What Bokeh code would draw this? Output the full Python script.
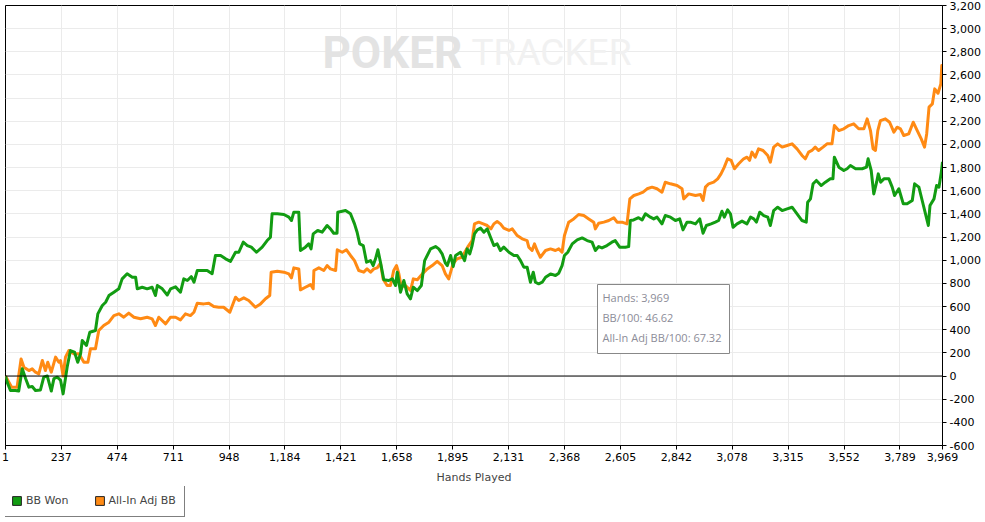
import math
from bokeh.plotting import figure
from bokeh.layouts import column
from bokeh.models import (Range1d, FixedTicker, NumeralTickFormatter, Span, Label,
                          BoxAnnotation, Legend, LegendItem, ColumnDataSource)
from bokeh.embed import file_html
from bokeh.resources import INLINE

# ---------------- data ----------------
x_ticks = [1, 237, 474, 711, 948, 1184, 1421, 1658, 1895, 2131, 2368, 2605,
           2842, 3078, 3315, 3552, 3789, 3969]
y_ticks = list(range(-600, 3201, 200))

won_hands = [1, 8, 22, 43, 57, 72, 86, 100, 114, 128,
             149, 163, 178, 195, 206, 220, 234, 245, 262, 276,
             293, 307, 319, 326, 344, 358, 382, 392, 411, 425,
             439, 460, 481, 495, 516, 538, 552, 559, 580, 601,
             622, 636, 644, 665, 686, 700, 721, 742, 756, 771,
             788, 799, 813, 834, 855, 876, 890, 912, 933, 954,
             975, 989, 1008, 1025, 1042, 1064, 1088, 1109, 1123, 1130,
             1152, 1180, 1201, 1212, 1222, 1243, 1250, 1271, 1285, 1295,
             1304, 1323, 1342, 1363, 1377, 1391, 1405, 1408, 1441, 1462,
             1479, 1490, 1501, 1516, 1530, 1547, 1558, 1568, 1578, 1589,
             1603, 1624, 1639, 1653, 1660, 1674, 1688, 1702, 1716, 1728,
             1745, 1762, 1776, 1801, 1822, 1836, 1850, 1864, 1872, 1886,
             1897, 1907, 1928, 1945, 1956, 1967, 1977, 1987, 1999, 2013,
             2027, 2041, 2055, 2069, 2083, 2097, 2111, 2133, 2154, 2168,
             2182, 2196, 2210, 2224, 2236, 2245, 2259, 2274, 2288, 2309,
             2330, 2344, 2358, 2368, 2382, 2401, 2422, 2443, 2464, 2485,
             2499, 2513, 2527, 2548, 2569, 2583, 2602, 2626, 2640, 2647,
             2661, 2682, 2697, 2711, 2732, 2746, 2760, 2781, 2795, 2817,
             2838, 2856, 2870, 2887, 2901, 2923, 2941, 2955, 2969, 2989,
             3007, 3021, 3035, 3045, 3059, 3071, 3082, 3099, 3120, 3141,
             3156, 3170, 3181, 3195, 3212, 3229, 3240, 3254, 3271, 3290,
             3311, 3332, 3353, 3374, 3392, 3398, 3410, 3421, 3435, 3455,
             3473, 3494, 3505, 3511, 3530, 3551, 3565, 3579, 3601, 3629,
             3647, 3654, 3667, 3678, 3690, 3697, 3707, 3721, 3742, 3756,
             3766, 3784, 3803, 3819, 3841, 3851, 3869, 3883, 3897, 3909,
             3916, 3933, 3944, 3954, 3964, 3969]
bb_won = [0, -53, -125, -125, -130, 62, -22, -96, -90, -125,
          -120, -10, 0, -130, -22, -10, -35, -154, 76, 220,
          207, 119, 192, 307, 264, 378, 393, 537, 609, 637,
          695, 724, 753, 839, 883, 853, 853, 753, 767, 753,
          767, 695, 781, 753, 700, 753, 770, 724, 839, 825,
          858, 810, 911, 911, 911, 883, 1041, 1041, 1012, 990,
          1069, 1069, 1156, 1127, 1113, 1069, 1113, 1170, 1199, 1401,
          1401, 1395, 1372, 1343, 1415, 1415, 1084, 1113, 1141, 1098,
          1228, 1257, 1242, 1300, 1271, 1233, 1233, 1415, 1429, 1401,
          1314, 1242, 1141, 1127, 983, 997, 954, 1012, 1090, 983,
          831, 825, 840, 782, 897, 724, 825, 709, 667, 767,
          738, 782, 997, 1098, 1118, 1098, 1055, 975, 954, 1041,
          946, 1041, 1069, 997, 1098, 1055, 1127, 1228, 1262, 1277,
          1242, 1271, 1199, 1127, 1141, 1084, 1113, 1069, 1041, 1041,
          997, 940, 940, 810, 897, 810, 796, 810, 853, 882,
          868, 888, 954, 1041, 1069, 1141, 1176, 1193, 1170, 1156,
          1084, 1118, 1106, 1127, 1156, 1170, 1113, 1113, 1118, 1343,
          1348, 1367, 1348, 1401, 1372, 1357, 1372, 1314, 1386, 1372,
          1343, 1357, 1262, 1329, 1329, 1314, 1357, 1233, 1300, 1314,
          1329, 1343, 1423, 1372, 1435, 1401, 1285, 1314, 1338, 1314,
          1372, 1357, 1329, 1415, 1386, 1372, 1300, 1429, 1458, 1429,
          1444, 1458, 1401, 1343, 1329, 1501, 1530, 1660, 1689, 1645,
          1674, 1703, 1703, 1890, 1804, 1775, 1790, 1818, 1790, 1790,
          1804, 1876, 1775, 1573, 1674, 1746, 1674, 1703, 1703, 1631,
          1559, 1617, 1487, 1487, 1516, 1660, 1631, 1516, 1401, 1300,
          1472, 1530, 1645, 1631, 1761, 1850]

adj_hands = [1, 27, 50, 67, 79, 100, 114, 128, 142, 157,
             170, 180, 195, 213, 227, 234, 245, 255, 269, 290,
             312, 333, 350, 361, 382, 396, 417, 439, 460, 481,
             502, 523, 545, 573, 601, 622, 636, 650, 679, 700,
             721, 742, 763, 784, 799, 813, 841, 862, 883, 904,
             925, 951, 975, 989, 1010, 1031, 1059, 1081, 1102, 1120,
             1126, 1152, 1180, 1201, 1212, 1222, 1243, 1250, 1271, 1293,
             1304, 1307, 1328, 1349, 1363, 1377, 1399, 1406, 1427, 1445,
             1462, 1479, 1497, 1518, 1532, 1547, 1561, 1575, 1589, 1600,
             1617, 1631, 1645, 1657, 1667, 1677, 1695, 1716, 1728, 1745,
             1766, 1787, 1808, 1829, 1850, 1864, 1878, 1896, 1913, 1934,
             1958, 1977, 1987, 2005, 2024, 2041, 2057, 2069, 2083, 2097,
             2111, 2133, 2147, 2168, 2189, 2210, 2217, 2231, 2241, 2252,
             2266, 2288, 2309, 2330, 2344, 2358, 2368, 2386, 2407, 2428,
             2450, 2471, 2492, 2499, 2513, 2535, 2556, 2577, 2591, 2612,
             2633, 2645, 2662, 2683, 2701, 2718, 2739, 2760, 2781, 2795,
             2817, 2845, 2866, 2873, 2894, 2923, 2944, 2955, 2965, 2979,
             3000, 3017, 3031, 3045, 3059, 3074, 3088, 3106, 3127, 3141,
             3152, 3162, 3176, 3190, 3209, 3229, 3240, 3254, 3271, 3290,
             3311, 3332, 3353, 3374, 3388, 3402, 3416, 3430, 3444, 3463,
             3480, 3501, 3511, 3530, 3551, 3572, 3593, 3614, 3636, 3650,
             3664, 3675, 3685, 3695, 3706, 3727, 3745, 3763, 3777, 3791,
             3805, 3826, 3845, 3862, 3879, 3893, 3902, 3912, 3926, 3936,
             3950, 3962, 3966, 3969]
bb_adj = [0, -96, -96, 148, 76, 47, 62, 33, 19, 134,
          47, 119, 33, 163, 119, 134, 0, 163, 220, 192,
          192, 119, 119, 235, 235, 393, 436, 465, 522, 537,
          508, 543, 508, 494, 508, 494, 436, 508, 451, 508,
          508, 485, 537, 522, 551, 629, 623, 629, 600, 594,
          594, 551, 681, 652, 675, 652, 594, 623, 667, 695,
          897, 905, 897, 882, 848, 934, 925, 744, 767, 790,
          753, 911, 934, 911, 954, 925, 911, 1090, 1069, 1090,
          1041, 997, 911, 897, 925, 897, 925, 934, 975, 839,
          782, 782, 911, 954, 882, 767, 782, 738, 839, 831,
          882, 925, 954, 991, 954, 882, 839, 969, 1012, 1026,
          1113, 1170, 1314, 1329, 1314, 1300, 1271, 1314, 1334, 1314,
          1277, 1257, 1271, 1213, 1185, 1170, 1113, 1084, 1141, 1084,
          1026, 1084, 1098, 1084, 1098, 1069, 1213, 1329, 1357, 1395,
          1386, 1357, 1329, 1271, 1320, 1329, 1343, 1367, 1329, 1329,
          1314, 1530, 1559, 1573, 1588, 1617, 1631, 1617, 1588, 1674,
          1660, 1645, 1617, 1530, 1573, 1559, 1567, 1516, 1631, 1660,
          1674, 1703, 1746, 1804, 1876, 1862, 1790, 1833, 1876, 1890,
          1862, 1934, 1890, 1962, 1948, 1905, 1847, 1977, 2005, 1977,
          1991, 2005, 1962, 1905, 1876, 1934, 1948, 1977, 1948, 1977,
          2005, 2005, 2163, 2120, 2135, 2163, 2178, 2135, 2135, 2221,
          2120, 1962, 1948, 2120, 2206, 2221, 2192, 2106, 2149, 2135,
          2077, 2091, 2192, 2120, 2048, 1977, 2091, 2322, 2350, 2480,
          2442, 2523, 2681, 2672]

series_names = ["BB Won", "All-In Adj BB"]
x_title = "Hands Played"
info_lines = ["Hands: 3,969", "BB/100: 46.62", "All-In Adj BB/100: 67.32"]
watermark = ["POKER", "TRACKER"]

GREEN = "#129c12"
ORANGE = "#ff8a14"
FONT = "DejaVu Sans"

# ---------------- main figure ----------------
FW, FH = 937, 440

p = figure(frame_width=FW, frame_height=FH,
           x_range=Range1d(1, 3969), y_range=Range1d(-600, 3200),
           y_axis_location="right", output_backend="svg", toolbar_location=None,
           min_border_left=5, min_border_right=2, min_border_top=5, min_border_bottom=41)
p.outline_line_color = "black"
p.outline_line_width = 1
p.background_fill_color = "white"
p.border_fill_color = "white"

for ax in (p.xaxis[0], p.yaxis[0]):
    ax.major_tick_out = 4
    ax.major_tick_in = 0
    ax.minor_tick_out = 0
    ax.minor_tick_in = 0
    ax.axis_line_color = "black"
    ax.major_tick_line_color = "black"
    ax.major_label_text_font = FONT
    ax.major_label_text_font_size = "11px"
    ax.major_label_text_color = "black"
    ax.formatter = NumeralTickFormatter(format="0,0")

p.xaxis.ticker = FixedTicker(ticks=x_ticks)
p.yaxis.ticker = FixedTicker(ticks=y_ticks)
p.xaxis.major_label_standoff = 3
p.yaxis.major_label_standoff = 3
p.xaxis.axis_label = x_title
p.xaxis.axis_label_text_font = FONT
p.xaxis.axis_label_text_font_size = "11px"
p.xaxis.axis_label_text_font_style = "normal"
p.xaxis.axis_label_standoff = 7

p.xgrid.ticker = FixedTicker(ticks=x_ticks)
p.ygrid.ticker = FixedTicker(ticks=y_ticks)
for g in (p.xgrid[0], p.ygrid[0]):
    g.grid_line_color = "#ebebeb"
    g.grid_line_width = 1

# watermark (screen units relative to the frame, y measured up from its bottom)
p.add_layout(Label(x=317, y=440 - 47, x_units="screen", y_units="screen",
                   text=watermark[0], text_font="Roboto", text_font_style="bold",
                   text_font_size="44px", text_color="#e3e3e3",
                   text_baseline="middle", level="underlay"))
p.add_layout(Label(x=466, y=440 - 47, x_units="screen", y_units="screen",
                   text=watermark[1], text_font="Roboto",
                   text_font_size="37px", text_color="#f1f1f1",
                   text_baseline="middle", level="underlay"))

# zero line (above the grid, below the series)
p.add_layout(Span(location=0, dimension="width", line_color="black",
                  line_width=1, level="glyph"))

# series
p.line(adj_hands, bb_adj, line_color=ORANGE, line_width=3, line_join="round")
p.line(won_hands, bb_won, line_color=GREEN, line_width=3, line_join="round")

# info box
p.add_layout(BoxAnnotation(left=592, right=724, top=440 - 279, bottom=440 - 348,
                           left_units="screen", right_units="screen",
                           top_units="screen", bottom_units="screen",
                           fill_color="white", fill_alpha=1.0,
                           line_color="#888888", line_alpha=1.0, line_width=1))
for i, t in enumerate(info_lines):
    p.add_layout(Label(x=597, y=440 - 292 - 20 * i,
                       x_units="screen", y_units="screen", text=t,
                       text_font="Open Sans", text_font_size="11px",
                       text_color="#8c8c98", text_baseline="middle"))

# ---------------- legend strip (separate small figure) ----------------
lg = figure(width=400, height=34, output_backend="svg", toolbar_location=None,
            x_axis_type=None, y_axis_type=None,
            x_range=Range1d(0, 1), y_range=Range1d(0, 1),
            min_border=0, min_border_left=0, min_border_right=0,
            min_border_top=0, min_border_bottom=0)
lg.outline_line_color = None
lg.grid.visible = False
lg.background_fill_color = "white"
lg.border_fill_color = "white"

nan_src1 = ColumnDataSource(dict(l=[math.nan], r=[math.nan], t=[math.nan], b=[math.nan]))
nan_src2 = ColumnDataSource(dict(l=[math.nan], r=[math.nan], t=[math.nan], b=[math.nan]))
r1 = lg.quad(left="l", right="r", top="t", bottom="b", source=nan_src1,
             fill_color=GREEN, line_color="#222222", line_width=1)
r2 = lg.quad(left="l", right="r", top="t", bottom="b", source=nan_src2,
             fill_color=ORANGE, line_color="#222222", line_width=1)
legend = Legend(items=[LegendItem(label=series_names[0], renderers=[r1]),
                       LegendItem(label=series_names[1], renderers=[r2])],
                orientation="horizontal", location=(-3, 3),
                glyph_width=11, glyph_height=11, label_standoff=4, spacing=25,
                padding=8, margin=0, label_height=15,
                label_text_font=FONT, label_text_font_size="11px",
                border_line_color="black", border_line_width=1,
                background_fill_color="white", background_fill_alpha=1.0)
lg.add_layout(legend, "center")

layout = column(p, lg, spacing=0)
open("out.html", "w").write(file_html(layout, INLINE))
